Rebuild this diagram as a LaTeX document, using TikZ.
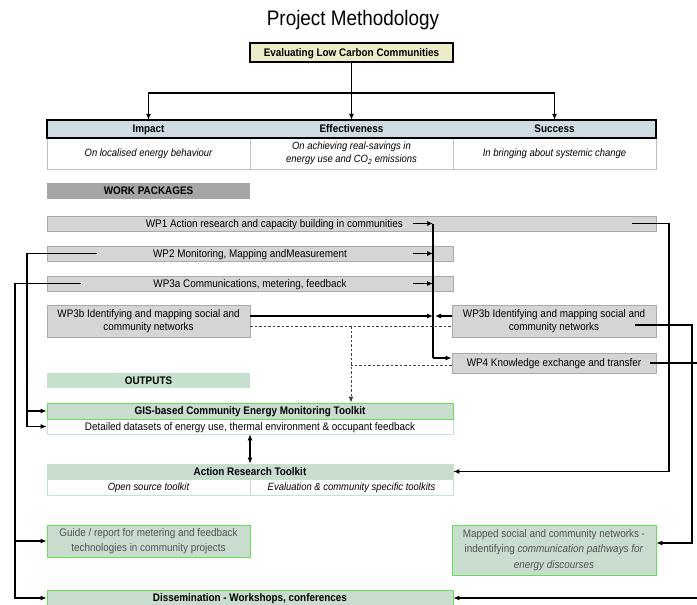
\documentclass[tikz,border=0pt]{standalone}
\usepackage{fontspec}
\setmainfont[FakeStretch=0.9]{Liberation Sans}
\usetikzlibrary{arrows.meta,calc,positioning}
\definecolor{evalyellow}{RGB}{236,236,202}
\definecolor{headblue}{RGB}{208,220,228}
\definecolor{wpgray}{RGB}{213,213,213}
\definecolor{wpedge}{RGB}{170,170,170}
\definecolor{wpdark}{RGB}{166,166,166}
\definecolor{outgreen}{RGB}{198,224,206}
\definecolor{toolgreen}{RGB}{201,221,207}
\definecolor{brightgreen}{RGB}{104,222,88}
\definecolor{palegreen}{RGB}{200,224,204}
\definecolor{guidegray}{RGB}{80,80,80}

\begin{document}
\begin{tikzpicture}[x=1pt,y=-1pt,
    box/.style={draw,inner sep=0pt,align=center,font=\fontsize{11}{13}\selectfont},
    oneline/.style={text height=8pt,text depth=0.8pt},
    boldbox/.style={box,oneline,font=\fontsize{11}{13}\selectfont\bfseries},
    evalbox/.style={boldbox,fill=evalyellow,line width=2pt},
    headbox/.style={boldbox,fill=headblue,draw=none},
    subbox/.style={box,fill=white,draw=gray!50,line width=0.6pt,font=\fontsize{10.5}{13}\selectfont\itshape},
    wpbox/.style={box,fill=wpgray,draw=wpedge,line width=0.6pt},
    wptext/.style={anchor=east,inner sep=0pt,oneline,font=\fontsize{11}{13}\selectfont},
    outbox/.style={box,fill=toolgreen,draw=brightgreen,line width=0.8pt},
    rowbox/.style={box,oneline,fill=white,draw=palegreen,line width=0.6pt},
    link/.style={line width=1.1pt},
    arr/.style={link,-{Latex[length=6pt,width=5pt]}},
    dashlink/.style={line width=0.9pt,black!75,dash pattern=on 2.5pt off 2pt}]
  \useasboundingbox (0,0) rectangle (697,605);
  \clip (0,0) rectangle (697,605);
  % title and evaluation box
  \node[anchor=base,inner sep=0pt,font=\fontsize{21}{24}\selectfont] (title) at (353,26) {Project Methodology};
  \node[evalbox,minimum width=203pt,minimum height=19pt] (eval) at (351.5,52.5) {Evaluating Low Carbon Communities};
  % criteria table
  \node[headbox,minimum width=203pt,minimum height=18pt] (impact) at (148.5,129) {Impact};
  \node[headbox,minimum width=203pt,minimum height=18pt] (effect) at (351.5,129) {Effectiveness};
  \node[headbox,minimum width=203pt,minimum height=18pt] (success) at (554.5,129) {Success};
  \node[subbox,minimum width=203pt,minimum height=31pt] (impactsub) at (148.5,153.5) {On localised energy behaviour};
  \node[subbox,minimum width=203pt,minimum height=31pt] (effectsub) at (351.5,153.5) {On achieving real-savings in\\energy use and CO\textsubscript{2} emissions};
  \node[subbox,minimum width=203pt,minimum height=31pt] (successsub) at (554.5,153.5) {In bringing about systemic change};
  \draw[line width=2pt] (impact.north west) rectangle (success.south east);
  \coordinate (split) at (351.5,93);
  \draw[link] (eval.south) -- (split);
  \draw[arr] (split) -| (impact.north);
  \draw[arr] (split) -- (effect.north);
  \draw[arr] (split) -| (success.north);
  % work packages
  \node[boldbox,fill=wpdark,draw=none,minimum width=203pt,minimum height=16pt] (wphead) at (148.5,191) {WORK PACKAGES};
  \node[wpbox,minimum width=609pt,minimum height=15pt] (wp1) at (351.5,223.5) {};
  \node[wptext] (wp1text) at (403,223.5) {WP1 Action research and capacity building in communities};
  \node[wpbox,oneline,minimum width=406pt,minimum height=15pt] (wp2) at (250,253.5) {WP2 Monitoring, Mapping andMeasurement};
  \node[wpbox,oneline,minimum width=406pt,minimum height=15pt] (wp3a) at (250,283.5) {WP3a Communications, metering, feedback};
  \node[wpbox,minimum width=203pt,minimum height=32pt,font=\fontsize{11}{13.5}\selectfont] (wp3bl) at (148.5,321) {WP3b Identifying and mapping social and\\community networks};
  \node[wpbox,minimum width=204pt,minimum height=32pt,font=\fontsize{11}{13.5}\selectfont] (wp3br) at (554,321) {WP3b Identifying and mapping social and\\community networks};
  \node[wpbox,oneline,minimum width=204pt,minimum height=20pt] (wp4) at (554,363) {WP4 Knowledge exchange and transfer};
  % outputs
  \node[boldbox,fill=outgreen,draw=none,minimum width=203pt,minimum height=15pt] (outputs) at (148.5,380.5) {OUTPUTS};
  \node[rowbox,minimum width=406pt,minimum height=15pt] (detailed) at (250,426.5) {Detailed datasets of energy use, thermal environment \& occupant feedback};
  \node[outbox,oneline,font=\fontsize{11}{13}\selectfont\bfseries,minimum width=406pt,minimum height=16pt] (gis) at (250,411) {GIS-based Community Energy Monitoring Toolkit};
  \node[rowbox,font=\fontsize{10.5}{13}\selectfont\itshape,minimum width=203pt,minimum height=16pt] (opentk) at (148.5,487) {Open source toolkit};
  \node[rowbox,font=\fontsize{10.5}{13}\selectfont\itshape,minimum width=203pt,minimum height=16pt] (evaltk) at (351.5,487) {Evaluation \& community specific toolkits};
  \node[boldbox,fill=toolgreen,draw=palegreen,line width=0.6pt,minimum width=406pt,minimum height=15pt] (art) at (250,471.5) {Action Research Toolkit};
  \node[outbox,text=guidegray,font=\fontsize{11}{14.5}\selectfont,minimum width=203pt,minimum height=32pt] (guide) at (148.5,541) {Guide / report for metering and feedback\\technologies in community projects};
  \node[outbox,text=guidegray,font=\fontsize{11}{15.5}\selectfont,minimum width=204pt,minimum height=50pt] (mapped) at (554,550) {Mapped social and community networks -\\indentifying \textit{communication pathways for}\\\textit{energy discourses}};
  \node[outbox,oneline,font=\fontsize{11}{13}\selectfont\bfseries,minimum width=406pt,minimum height=16pt] (diss) at (250,598) {Dissemination - Workshops, conferences};
  % links into the hub
  \coordinate (hubtop) at (433,223.5);
  \coordinate (hubbot) at (433,358);
  \draw[link] (hubtop) -- (hubbot);
  \draw[arr] (hubbot) -- ($(wp4.west)+(0,-5)$);
  \draw[arr] (413,223.5) -- (hubtop);
  \draw[arr] (413,253.5) -- (hubtop |- wp2);
  \draw[arr] (413,283.5) -- (hubtop |- wp3a);
  \draw[arr] ($(wp3bl.east)+(0,-5)$) -- ($(wp3bl.east -| hubtop)+(0,-5)$);
  \draw[arr] ($(wp3br.west)+(0,-5)$) -- ($(wp3br.west -| hubtop)+(2,-5)$);
  % dashed links
  \coordinate (dashtop) at (351,326);
  \draw[dashlink] ($(wp3bl.east)+(0,5)$) -- ($(wp3br.west)+(0,5)$);
  \draw[dashlink] ($(wp4.west)+(0,2)$) -- ($(wp4.west -| dashtop)+(0,2)$);
  \draw[dashlink,-{Latex[length=6pt,width=5pt]}] (dashtop) -- (dashtop |- gis.north);
  \draw[link,{Latex[length=6pt,width=5pt]}-{Latex[length=6pt,width=5pt]}] (detailed.south) -- (art.north);
  % left feeders
  \coordinate (wp2out) at (97,253.5);
  \coordinate (wp3aout) at (81,283.5);
  \draw[arr] (wp2out) -| (27,426.5) -- (detailed.west);
  \draw[arr] (27,411) -- (gis.west);
  \draw[arr] (wp3aout) -| (15,598) -- (diss.west);
  \draw[arr] (15,541) -- (guide.west);
  % right feeders
  \coordinate (wp1out) at (632,223.5);
  \coordinate (wp3bout) at (635,325);
  \coordinate (wp4out) at (650,363);
  \draw[arr] (wp1out) -| (669,471.5) -- (art.east);
  \draw[arr] (wp3bout) -| (692,543) -- ($(mapped.east)+(0,-7)$);
  \draw[arr] (wp4out) -| (703,598) -- (diss.east);
\end{tikzpicture}
\end{document}
